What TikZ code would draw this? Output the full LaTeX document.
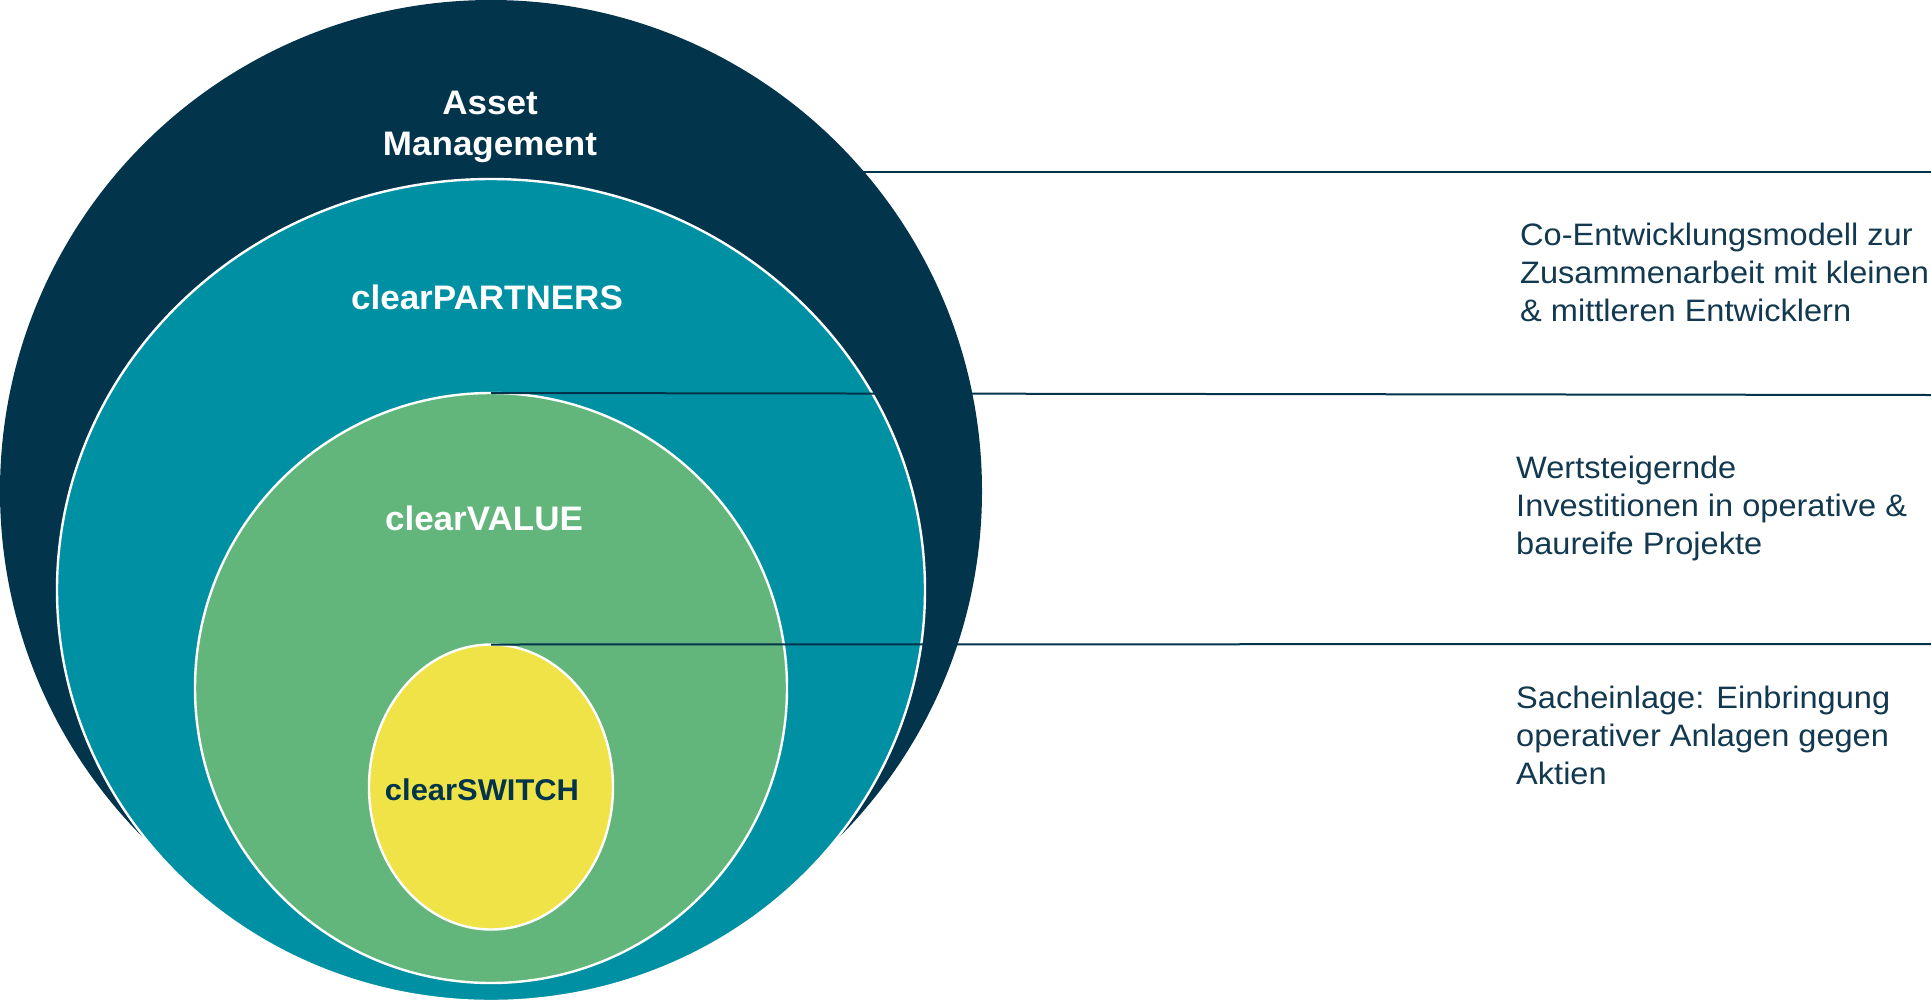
\documentclass[tikz,border=0pt]{standalone}
\usepackage{fontspec}
\setmainfont{Liberation Sans}
\newfontfamily\descfont[FakeStretch=1.05]{Liberation Sans}
\newfontfamily\lblfont[FakeStretch=1.03]{Liberation Sans}
\usetikzlibrary{shapes.geometric}
\definecolor{navy}{HTML}{02344B}
\definecolor{tealc}{HTML}{0090A3}
\definecolor{greenc}{HTML}{62B57B}
\definecolor{yellowc}{HTML}{EFE348}
\definecolor{txt}{HTML}{12394F}
\tikzset{
  ring/.style={ellipse, inner sep=0pt, outer sep=0pt, draw=white, line width=2.4pt},
  rule/.style={draw=navy, line width=2pt},
  lbl/.style={anchor=base, inner sep=0pt, text=white, font=\lblfont\bfseries\fontsize{34}{41}\selectfont},
  desc/.style={anchor=base west, inner sep=0pt, align=left, text=txt, font=\descfont\fontsize{31}{38}\selectfont}
}
\begin{document}
\begin{tikzpicture}[x=1pt,y=-1pt]
\useasboundingbox[fill=white] (0,0) rectangle (1931,1002);
% top rule (behind the outer circle)
\coordinate (s1) at (491,172);
\coordinate (e1) at (1931,172);
\draw[rule] (s1) -- (e1);
% outer circle
\node[circle, fill=navy, inner sep=0pt, outer sep=0pt, minimum size=982pt] (outer) at (491,491) {};
% nested ellipses
\node[ring, fill=tealc, minimum width=868pt, minimum height=822pt] (partners) at (491,590) {};
\node[ring, fill=greenc, minimum width=592pt, minimum height=590pt] (value) at (491,688) {};
\node[ring, fill=yellowc, minimum width=244pt, minimum height=285pt] (switch) at (491,787) {};
% rules
\coordinate (e2) at (1931,395);
\coordinate (e3) at (1931,644);
\draw[rule] (value.north) -- (e2);
\draw[rule] (switch.north) -- (e3);
% labels
\node[lbl] (am1) at (490,114) {Asset};
\node[lbl] (am2) at (490,155) {Management};
\node[lbl] (lp) at (487,309) {clearPARTNERS};
\node[lbl] (lv) at (484,530) {clearVALUE};
\node[lbl, text=navy, font=\lblfont\bfseries\fontsize{30}{36}\selectfont] (ls) at (482,800) {clearSWITCH};
% descriptions (anchor = baseline of the last line)
\node[desc] (d1) at (1520,321) {Co-Entwicklungsmodell zur\\Zusammenarbeit mit kleinen\\\& mittleren Entwicklern};
\node[desc] (d2) at (1516,554) {Wertsteigernde\\Investitionen in operative \&\\baureife Projekte};
\node[desc] (d3) at (1516,784) {Sacheinlage: Einbringung\\operativer Anlagen gegen\\Aktien};
\end{tikzpicture}
\end{document}
